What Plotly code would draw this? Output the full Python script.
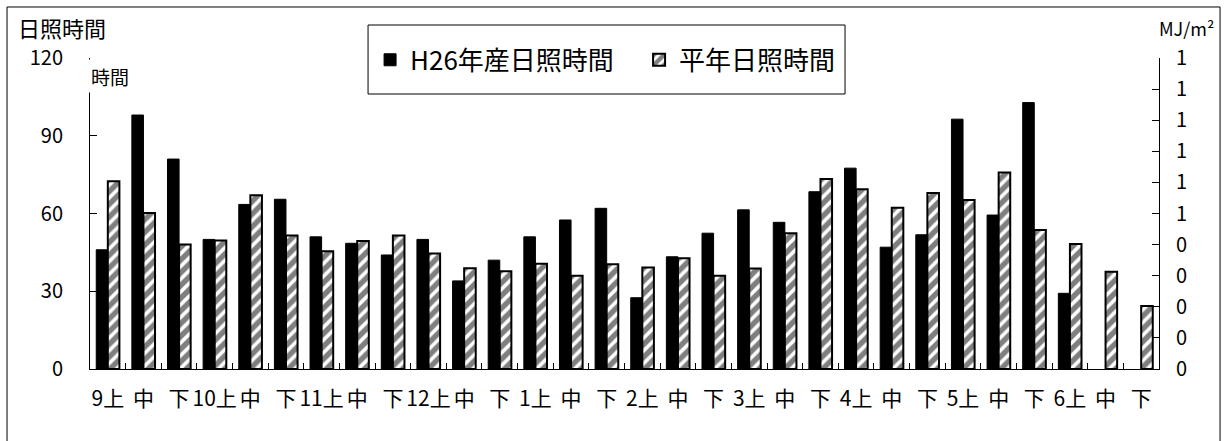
import plotly.graph_objects as go

categories = ["9上", "中", "下", "10上", "中", "下", "11上", "中", "下", "12上", "中", "下",
              "1上", "中", "下", "2上", "中", "下", "3上", "中", "下", "4上", "中", "下",
              "5上", "中", "下", "6上", "中", "下"]
h26_sunshine = [46, 98, 81, 50, 63.5, 65.5, 51, 48.5, 44, 50, 34, 42,
                51, 57.5, 62, 27.5, 43.3, 52.4, 61.4, 56.6, 68.4, 77.5, 47, 51.8,
                96.4, 59.4, 102.8, 29.2, None, None]
normal_sunshine = [72.4, 60.2, 48, 49.6, 67, 51.5, 45.4, 49.4, 51.5, 44.6, 38.9, 37.7,
                   40.6, 36, 40.4, 39.2, 42.7, 36, 38.8, 52.4, 73.3, 69.4, 62.2, 67.9,
                   65.2, 75.8, 53.6, 48.2, 37.5, 24.3]
left_ticks = [0, 30, 60, 90, 120]
right_tickvals = [0, 0.1, 0.2, 0.3, 0.4, 0.5, 0.6, 0.7, 0.8, 0.9, 1.0]
right_ticktext = ["0", "0", "0", "0", "0", "1", "1", "1", "1", "1", "1"]

FONT = "Noto Sans CJK JP"
xs = list(range(len(categories)))

fig = go.Figure()
fig.add_trace(go.Bar(
    x=xs, y=h26_sunshine, name="H26年産日照時間",
    marker=dict(color="black", line=dict(color="black", width=1)),
))
fig.add_trace(go.Bar(
    x=xs, y=normal_sunshine, name="平年日照時間",
    marker=dict(color="white", line=dict(color="black", width=2),
                pattern=dict(shape="/", fgcolor="black", bgcolor="white",
                             size=9, solidity=0.6)),
))
fig.add_trace(go.Scatter(x=[0], y=[0], yaxis="y2", mode="markers", showlegend=False,
                         hoverinfo="skip", marker=dict(opacity=0, size=1)))

fig.update_layout(
    width=1227, height=441,
    margin=dict(l=90, r=68, t=58, b=72),
    paper_bgcolor="white", plot_bgcolor="white",
    font=dict(family=FONT, color="black", size=20),
    barmode="group", bargap=0.35, bargroupgap=0,
    showlegend=True,
    legend=dict(orientation="h", x=0.262, xanchor="left", y=0.994, yanchor="middle",
                bgcolor="rgba(0,0,0,0)", borderwidth=0,
                entrywidth=224, entrywidthmode="pixels",
                font=dict(family=FONT, size=26, color="black")),
    xaxis=dict(
        range=[-0.5, len(categories) - 0.5],
        tickmode="array", tickvals=xs, ticktext=categories,
        ticks="", showline=True, linecolor="black", linewidth=1,
        showgrid=False, zeroline=False,
        tickfont=dict(family=FONT, size=21),
        ticklabelstandoff=11,
        minor=dict(tickmode="array", tickvals=[i - 0.5 for i in xs[1:]] + [len(xs) - 0.5],
                   ticks="inside", ticklen=6, tickcolor="black", tickwidth=1, showgrid=False),
    ),
    yaxis=dict(
        range=[0, 120], tickmode="array", tickvals=left_ticks,
        ticks="inside", ticklen=7, tickcolor="black",
        showline=True, linecolor="black", linewidth=1,
        showgrid=False, zeroline=False,
        tickfont=dict(family=FONT, size=20),
        ticklabelstandoff=22,
    ),
    yaxis2=dict(
        overlaying="y", side="right", range=[0, 1],
        tickmode="array", tickvals=right_tickvals, ticktext=right_ticktext,
        ticks="inside", ticklen=7, tickcolor="black",
        showline=True, linecolor="black", linewidth=1,
        showgrid=False, zeroline=False,
        tickfont=dict(family=FONT, size=20),
        ticklabelstandoff=12,
    ),
    shapes=[
        dict(type="rect", xref="paper", yref="paper", x0=-0.0776, x1=1.0571, y0=-0.244, y1=1.164,
             line=dict(color="black", width=1)),
        dict(type="rect", xref="paper", yref="paper", x0=0.2601, x1=0.7063, y0=0.8842, y1=1.1061,
             line=dict(color="black", width=1)),
    ],
    annotations=[
        dict(text="日照時間", xref="paper", yref="paper", x=-0.0262, y=1.1,
             xanchor="center", yanchor="middle", showarrow=False,
             font=dict(family=FONT, size=22)),
        dict(text="MJ/m²", xref="paper", yref="paper", x=1.0253, y=1.095,
             xanchor="center", yanchor="middle", showarrow=False,
             font=dict(family=FONT, size=18)),
        dict(text="時間", xref="paper", yref="paper", x=0.0187, y=0.942,
             xanchor="center", yanchor="middle", showarrow=False,
             width=44, height=30, bgcolor="white",
             font=dict(family=FONT, size=19)),
    ],
)

fig.write_html("out.html")
